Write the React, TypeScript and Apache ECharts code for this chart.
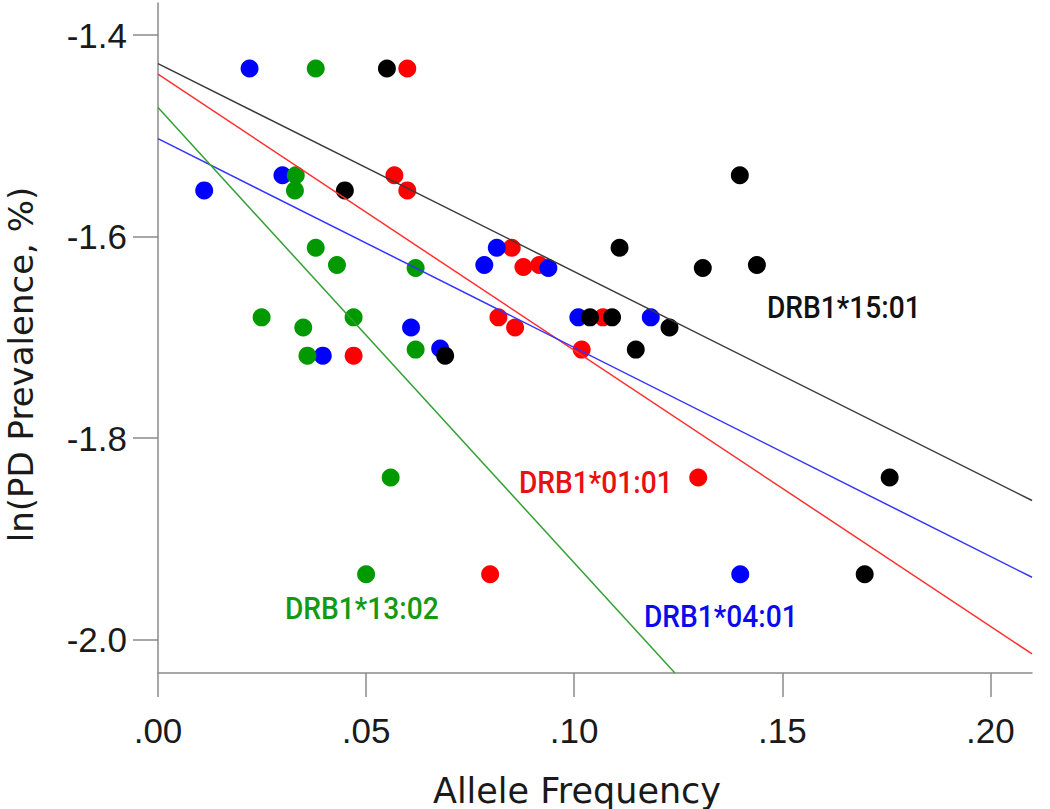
import React, { useEffect, useRef } from "react";
import * as echarts from "echarts";

// ---- data ----
const xTicks = [0, 0.05, 0.1, 0.15, 0.2];
const yTicks = [-2.0, -1.8, -1.6, -1.4];

// DRB1*01:01 (red)
const redFreq = [0.0599, 0.0568, 0.0599, 0.047, 0.085, 0.0878, 0.0916, 0.0818, 0.0858, 0.1069, 0.1018, 0.1298, 0.0798];
const redLnPrev = [-1.433, -1.539, -1.554, -1.718, -1.611, -1.63, -1.628, -1.68, -1.69, -1.68, -1.712, -1.839, -1.935];

// DRB1*04:01 (blue)
const blueFreq = [0.022, 0.0111, 0.0299, 0.0396, 0.0608, 0.0678, 0.0784, 0.0814, 0.0938, 0.101, 0.1184, 0.1399];
const blueLnPrev = [-1.433, -1.554, -1.539, -1.718, -1.69, -1.711, -1.628, -1.611, -1.631, -1.68, -1.68, -1.935];

// DRB1*13:02 (green)
const greenFreq = [0.0379, 0.0331, 0.0329, 0.0379, 0.043, 0.0619, 0.0249, 0.0349, 0.047, 0.0359, 0.0619, 0.0559, 0.05];
const greenLnPrev = [-1.433, -1.539, -1.554, -1.611, -1.628, -1.631, -1.68, -1.69, -1.68, -1.718, -1.712, -1.839, -1.935];

// DRB1*15:01 (black)
const blackFreq = [0.055, 0.0449, 0.069, 0.1038, 0.1091, 0.1109, 0.1148, 0.1229, 0.1398, 0.1309, 0.1439, 0.1758, 0.1698];
const blackLnPrev = [-1.433, -1.554, -1.718, -1.68, -1.68, -1.611, -1.712, -1.69, -1.539, -1.631, -1.628, -1.839, -1.935];

// fit lines (endpoints)
const redFitX = [0, 0.21];
const redFitY = [-1.4387, -2.014];
const blueFitX = [0, 0.21];
const blueFitY = [-1.5026, -1.938];
const greenFitX = [0, 0.1242];
const greenFitY = [-1.4718, -2.033];
const blackFitX = [0, 0.21];
const blackFitY = [-1.4281, -1.8618];

const groupNames = ["DRB1*01:01", "DRB1*04:01", "DRB1*13:02", "DRB1*15:01"];

const zip = (xs: number[], ys: number[]) => xs.map((x, i) => [x, ys[i]]);

export default function App() {
  const ref = useRef<HTMLDivElement>(null);

  useEffect(() => {
    if (!ref.current) return;
    const chart = echarts.init(ref.current, undefined, { renderer: "svg" });

    const axisColor = "#8a8a8a";
    const tickFont = "'Liberation Sans', Arial, sans-serif";
    const titleFont = "'DejaVu Sans', sans-serif";

    const scatter = (name: string, xs: number[], ys: number[], color: string, z: number) => ({
      type: "scatter",
      name,
      data: zip(xs, ys),
      symbol: "circle",
      symbolSize: 18,
      itemStyle: { color, opacity: 1 },
      z,
    });
    const fit = (name: string, xs: number[], ys: number[], color: string) => ({
      type: "line",
      name: name + " fit",
      data: zip(xs, ys),
      symbol: "none",
      lineStyle: { color, width: 1.5 },
      z: 10,
    });

    const labelText = (text: string, x: number, y: number, color: string) => ({
      type: "text",
      x,
      y,
      scaleX: 0.88,
      style: {
        text,
        fill: color,
        fontFamily: "Roboto, sans-serif",
        fontSize: 32,
        fontWeight: 500,
        textAlign: "left",
        textVerticalAlign: "middle",
      },
      z: 20,
    });

    chart.setOption({
      animation: false,
      backgroundColor: "#ffffff",
      grid: { left: 158, right: 18, top: 3, bottom: 136, containLabel: false, outerBoundsMode: "none" },
      xAxis: {
        type: "value",
        min: 0,
        max: 0.21,
        name: "Allele Frequency",
        nameLocation: "middle",
        nameGap: 100,
        nameTextStyle: {
          fontFamily: titleFont,
          fontSize: 35,
          color: "#1a1a1a",
          padding: [0, 36, 0, 0],
        },
        axisLine: { show: true, onZero: false, lineStyle: { color: axisColor, width: 1.5 } },
        axisTick: { show: true, length: 24, customValues: xTicks, lineStyle: { color: axisColor, width: 1.5 } },
        axisLabel: {
          customValues: xTicks,
          margin: 40,
          fontFamily: tickFont,
          fontSize: 35,
          color: "#1a1a1a",
          formatter: (v: number) => v.toFixed(2).replace(/^0/, ""),
        },
        splitLine: { show: false },
      },
      yAxis: {
        type: "value",
        min: -2.033,
        max: -1.368,
        name: "ln(PD Prevalence, %)",
        nameLocation: "middle",
        nameGap: 120,
        nameTextStyle: {
          fontFamily: titleFont,
          fontSize: 34,
          color: "#1a1a1a",
          padding: [0, 53, 0, 0],
        },
        axisLine: { show: true, onZero: false, lineStyle: { color: axisColor, width: 1.5 } },
        axisTick: { show: true, length: 25, customValues: yTicks, lineStyle: { color: axisColor, width: 1.5 } },
        axisLabel: {
          customValues: yTicks,
          margin: 31,
          fontFamily: tickFont,
          fontSize: 35,
          color: "#1a1a1a",
          formatter: (v: number) => v.toFixed(1),
        },
        splitLine: { show: false },
      },
      series: [
        scatter(groupNames[0], redFreq, redLnPrev, "#ff0000", 2),
        scatter(groupNames[1], blueFreq, blueLnPrev, "#0000ff", 3),
        scatter(groupNames[2], greenFreq, greenLnPrev, "#009900", 4),
        scatter(groupNames[3], blackFreq, blackLnPrev, "#000000", 5),
        fit(groupNames[0], redFitX, redFitY, "#ff3030"),
        fit(groupNames[1], blueFitX, blueFitY, "#3333ff"),
        fit(groupNames[2], greenFitX, greenFitY, "#33a033"),
        fit(groupNames[3], blackFitX, blackFitY, "#3a3a3a"),
      ],
      graphic: [
        labelText(groupNames[3], 767, 307, "#111111"),
        labelText(groupNames[0], 519, 482, "#e81010"),
        labelText(groupNames[2], 285, 608, "#129a12"),
        labelText(groupNames[1], 644, 616, "#0a0aee"),
      ],
    });

    return () => chart.dispose();
  }, []);

  return (
    <div
      ref={ref}
      style={{ position: "fixed", left: 0, top: 0, width: 1050, height: 809, background: "#fff" }}
    />
  );
}
